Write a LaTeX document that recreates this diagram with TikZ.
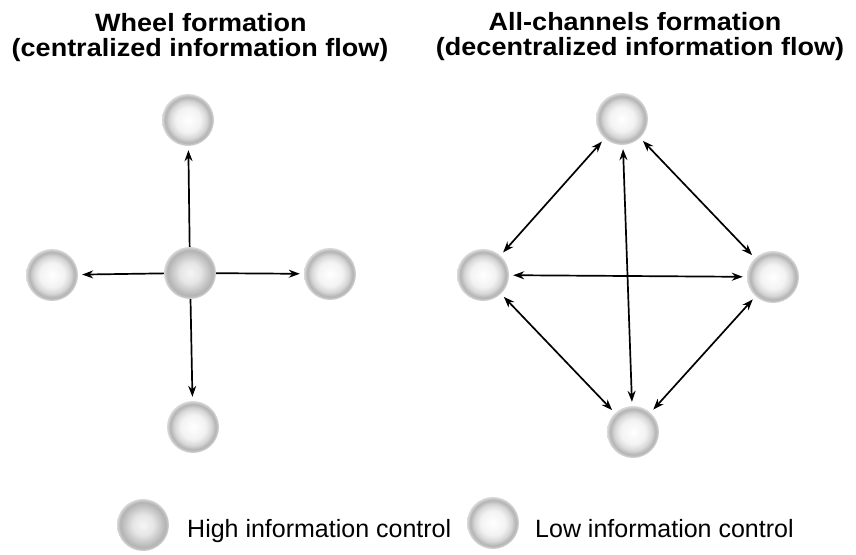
\documentclass[tikz,border=0pt]{standalone}
\usepackage{fontspec}
\setmainfont{Liberation Sans}
\newfontfamily\titlefont{Liberation Sans}[FakeStretch=1.08]
\usetikzlibrary{arrows.meta}
\pgfdeclareradialshading{lowring}{\pgfpoint{0bp}{0bp}}{color(0bp)=(white); color(12bp)=(white!95!black); color(18bp)=(black!16); color(22bp)=(black!30); color(25bp)=(black!14); color(50bp)=(black!14)}
\pgfdeclareradialshading{highring}{\pgfpoint{0bp}{0bp}}{color(0bp)=(white!96!black); color(10bp)=(white!90!black); color(16bp)=(black!20); color(22bp)=(black!30); color(25bp)=(black!15); color(50bp)=(black!15)}
\tikzset{
  lownode/.style={circle, minimum size=52pt, inner sep=0pt, shading=lowring},
  highnode/.style={circle, minimum size=52pt, inner sep=0pt, shading=highring},
  oneway/.style={line width=1.7pt, -{Stealth[length=11pt,width=8pt]}, shorten >=4pt},
  twoway/.style={line width=1.7pt, {Stealth[length=11pt,width=8pt]}-{Stealth[length=11pt,width=8pt]}, shorten >=4pt, shorten <=4pt},
  titletext/.style={anchor=base, inner sep=0pt, font=\fontsize{25}{30}\selectfont\titlefont\bfseries},
  legendtext/.style={anchor=base west, inner sep=0pt, font=\fontsize{25}{30}\selectfont}
}
\begin{document}
\begin{tikzpicture}[x=1pt,y=-1pt]
\useasboundingbox (0,0) rectangle (856,554);
\fill[white] (0,0) rectangle (856,554);
% titles
\node[titletext] (t1a) at (201,31) {Wheel formation};
\node[titletext] (t1b) at (200,56) {(centralized information flow)};
\node[titletext] (t2a) at (635,30) {All-channels formation};
\node[titletext] (t2b) at (640,55) {(decentralized information flow)};
% wheel
\node[highnode] (wc) at (190,273) {};
\node[lownode] (wt) at (188,120) {};
\node[lownode] (wl) at (52,275) {};
\node[lownode] (wr) at (330,274) {};
\node[lownode] (wb) at (193,427) {};
\draw[oneway] (wc) -- (wt);
\draw[oneway] (wc) -- (wl);
\draw[oneway] (wc) -- (wr);
\draw[oneway] (wc) -- (wb);
% all channels
\node[lownode] (at) at (622,119) {};
\node[lownode] (al) at (483,275) {};
\node[lownode] (ar) at (773,277) {};
\node[lownode] (ab) at (633,432) {};
\draw[twoway] (at) -- (al);
\draw[twoway] (at) -- (ar);
\draw[twoway] (at) -- (ab);
\draw[twoway] (al) -- (ar);
\draw[twoway] (al) -- (ab);
\draw[twoway] (ar) -- (ab);
% legend
\node[highnode] (lh) at (143,525) {};
\node[legendtext] (lht) at (187,537) {High information control};
\node[lownode] (ll) at (493,523) {};
\node[legendtext] (llt) at (535,537) {Low information control};
\end{tikzpicture}
\end{document}
